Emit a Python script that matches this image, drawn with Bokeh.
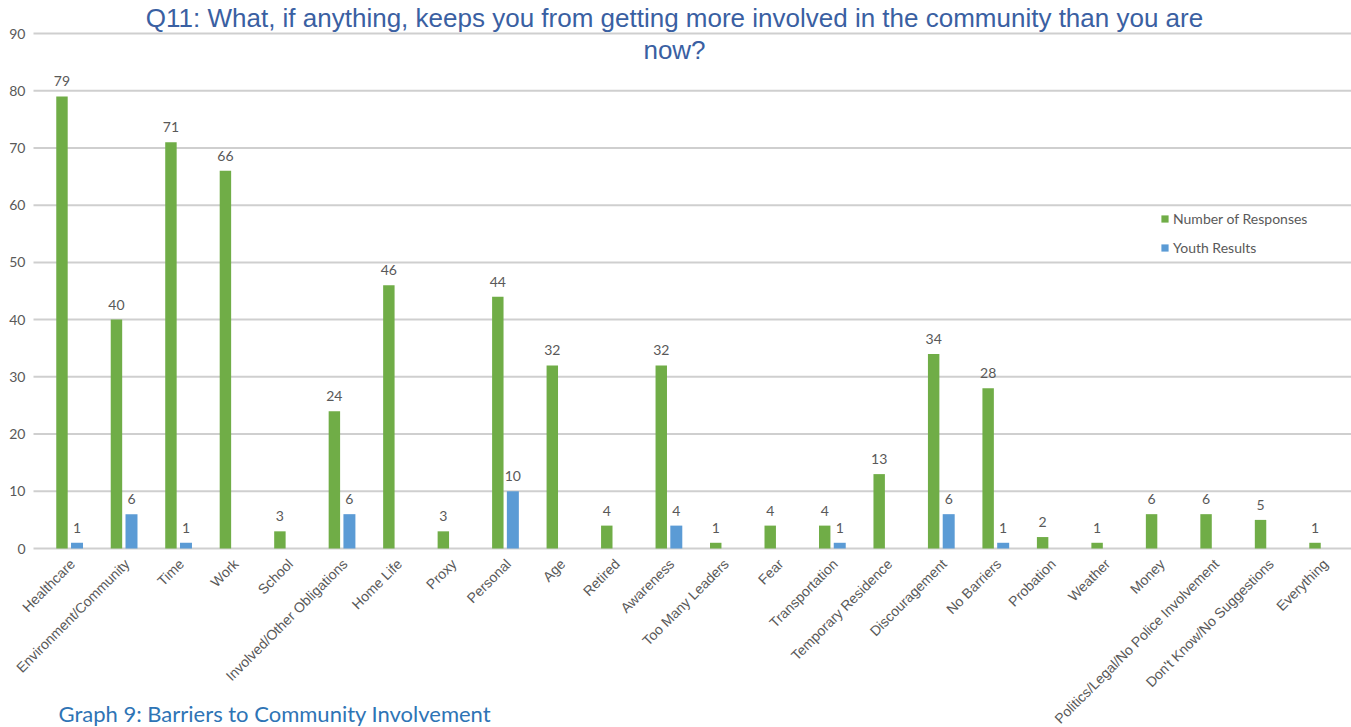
from bokeh.plotting import figure
from bokeh.models import ColumnDataSource, Range1d, LabelSet, Label, Legend, LegendItem
from bokeh.core.properties import value
from bokeh.embed import file_html
from bokeh.resources import INLINE

categories = ["Healthcare", "Environment/Community", "Time", "Work", "School",
              "Involved/Other Obligations", "Home Life", "Proxy", "Personal", "Age",
              "Retired", "Awareness", "Too Many Leaders", "Fear", "Transportation",
              "Temporary Residence", "Discouragement", "No Barriers", "Probation",
              "Weather", "Money", "Politics/Legal/No Police Involvement",
              "Don't Know/No Suggestions", "Everything"]
responses = [79, 40, 71, 66, 3, 24, 46, 3, 44, 32, 4, 32, 1, 4, 4, 13, 34, 28, 2, 1, 6, 6, 5, 1]
youth = [1, 6, 1, 0, 0, 6, 0, 0, 10, 0, 0, 4, 0, 0, 1, 0, 6, 1, 0, 0, 0, 0, 0, 0]
y_ticks = [0, 10, 20, 30, 40, 50, 60, 70, 80, 90]

title_line1 = "Q11: What, if anything, keeps you from getting more involved in the community than you are"
title_line2 = "now?"
caption = "Graph 9: Barriers to Community Involvement"

GREEN = "#70AD47"
BLUE = "#5B9BD5"
GRID = "#CFCFCF"
TXT = "#595959"
TITLE_C = "#3A60A2"

# ---- layout constants (pixels) ----
W, H = 1351, 727
PX_CAT = 54.48          # pixels per category
FIRST_CENTER = 69.0     # pixel x of first category centre
Y0_PX, Y90_PX = 548.0, 33.0
GRID_LEFT_PX = 33.0
PX_Y = (Y0_PX - Y90_PX) / 90.0

x_start = -FIRST_CENTER / PX_CAT
x_end = (W - FIRST_CENTER) / PX_CAT
y_end = 90 + Y90_PX / PX_Y
y_start = -(H - Y0_PX) / PX_Y

OFF = 0.138
idx = list(range(len(categories)))

src = ColumnDataSource(dict(
    xg=[i - OFF for i in idx],
    xc=idx,
    cat=categories,
    resp=responses,
    resp_lbl=[str(v) for v in responses],
    zero=[0] * len(categories),
))
ysrc_bars = ColumnDataSource(dict(xb=[i + OFF for i in idx], youth=youth))
ysrc = ColumnDataSource(dict(
    xb=[i + OFF for i, v in zip(idx, youth) if v > 0],
    youth=[v for v in youth if v > 0],
    lbl=[str(v) for v in youth if v > 0],
))
grid_x0 = x_start + GRID_LEFT_PX / PX_CAT
gsrc = ColumnDataSource(dict(y=y_ticks, x0=[grid_x0] * len(y_ticks), x1=[x_end] * len(y_ticks),
                             xl=[x_start] * len(y_ticks), lbl=[str(t) for t in y_ticks]))

p = figure(width=W, height=H, output_backend="svg", toolbar_location=None,
           x_range=Range1d(x_start, x_end), y_range=Range1d(y_start, y_end),
           x_axis_location=None, y_axis_location=None,
           min_border_left=0, min_border_right=0, min_border_top=0, min_border_bottom=0)
p.outline_line_color = None
p.background_fill_color = "white"
p.border_fill_color = "white"
p.xgrid.visible = False
p.ygrid.visible = False

# horizontal gridlines (value axis)
p.segment(x0="x0", x1="x1", y0="y", y1="y", source=gsrc, line_color=GRID, line_width=2)

# value-axis tick labels
ylab = LabelSet(x="xl", y="y", text="lbl", source=gsrc, x_offset=25,
                text_align="right", text_baseline="middle",
                text_font=value("Lato"), text_font_size="14px", text_color=TXT)
p.add_layout(ylab)

rg = p.vbar(x="xg", top="resp", width=0.21, source=src, fill_color=GREEN, line_color=None)
rb = p.vbar(x="xb", top="youth", width=0.22, source=ysrc_bars, fill_color=BLUE, line_color=None)

lg = LabelSet(x="xg", y="resp", text="resp_lbl", source=src,
              text_align="center", text_baseline="alphabetic", y_offset=10,
              text_font=value("Lato"), text_font_size="14px", text_color=TXT)
lb = LabelSet(x="xb", y="youth", text="lbl", source=ysrc,
              text_align="center", text_baseline="alphabetic", y_offset=10,
              text_font=value("Lato"), text_font_size="14px", text_color=TXT)
p.add_layout(lg)
p.add_layout(lb)

# category labels
cl = LabelSet(x="xc", y="zero", text="cat", source=src,
              angle=45, angle_units="deg",
              text_align="right", text_baseline="middle",
              x_offset=3, y_offset=-13,
              text_font=value("Liberation Sans"), text_font_size="14px", text_color=TXT)
p.add_layout(cl)

legend = Legend(items=[LegendItem(label="Number of Responses", renderers=[rg]),
                       LegendItem(label="Youth Results", renderers=[rb])],
                location=(1160, 470), orientation="vertical",
                background_fill_alpha=0, border_line_color=None,
                padding=0, margin=0, spacing=9,
                glyph_width=9, glyph_height=9, label_height=20,
                label_standoff=4,
                label_text_font="Lato", label_text_font_size="14px",
                label_text_color=TXT)
p.add_layout(legend)

TITLE_X = (674 - FIRST_CENTER) / PX_CAT
t1 = Label(x=TITLE_X, y=90 + (Y90_PX - 17) / PX_Y, text=title_line1,
           text_align="center", text_baseline="middle",
           text_font="Liberation Sans", text_font_size="26px", text_color=TITLE_C)
t2 = Label(x=TITLE_X, y=90 - (49 - Y90_PX) / PX_Y, text=title_line2,
           text_align="center", text_baseline="middle",
           text_font="Liberation Sans", text_font_size="26px", text_color=TITLE_C)
p.add_layout(t1)
p.add_layout(t2)

cap = Label(x=(58 - FIRST_CENTER) / PX_CAT, y=-(713 - Y0_PX) / PX_Y, text=caption,
            text_align="left", text_baseline="middle",
            text_font="Lato", text_font_size="22px", text_color="#2E74B5")
p.add_layout(cap)

open("out.html", "w").write(file_html(p, INLINE))
